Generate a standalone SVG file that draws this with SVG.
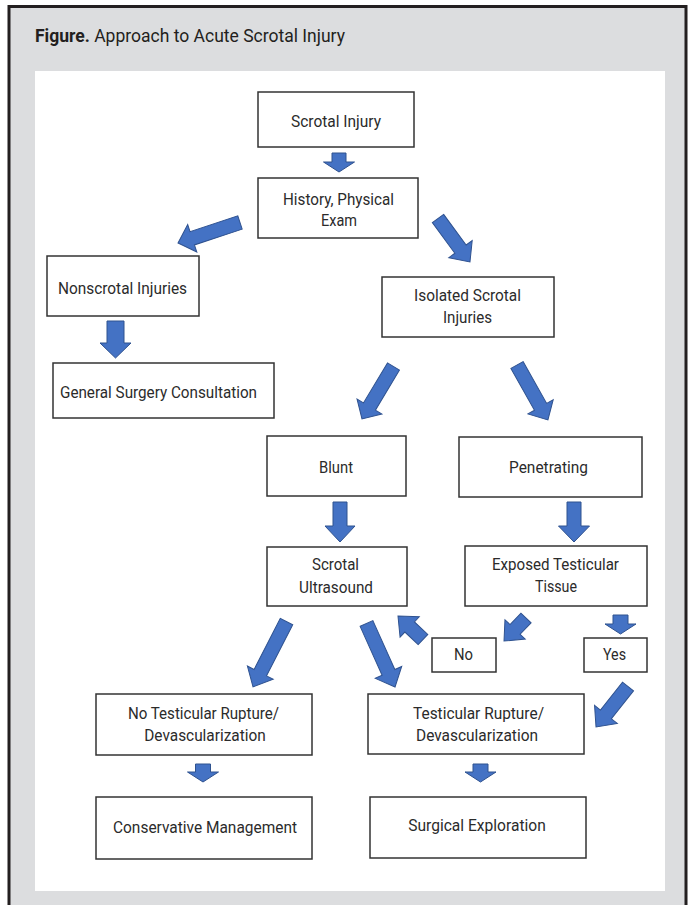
<svg xmlns="http://www.w3.org/2000/svg" width="689" height="905" viewBox="0 0 689 905">
<style>
.bx{fill:#fff;stroke:#333;stroke-width:1.5}
.t{font-family:Roboto,"Liberation Sans",sans-serif;font-size:16px;fill:#2b2b2b;text-anchor:middle}
.ar{fill:#4472C4;stroke:#2F528F;stroke-width:1;stroke-linejoin:miter}
</style>
<rect x="9" y="6.5" width="677" height="910" fill="#DCDDDF" stroke="#231F20" stroke-width="3"/>
<rect x="35" y="71" width="630" height="820" fill="#fff"/>
<text x="35" y="42" font-family="Roboto,'Liberation Sans',sans-serif" font-size="18" fill="#231F20" textLength="310" lengthAdjust="spacingAndGlyphs"><tspan font-weight="bold">Figure.</tspan> Approach to Acute Scrotal Injury</text>

<g id="connectors">
<polygon class="ar" transform="translate(339,153) rotate(90)" points="0,-7 9,-7 9,-15.5 19,0 9,15.5 9,7 0,7"/>
<polygon class="ar" transform="translate(240,222.5) rotate(161.7)" points="0,-7 50.3,-7 50.3,-14.5 65.3,0 50.3,14.5 50.3,7 0,7"/>
<polygon class="ar" transform="translate(438,218.5) rotate(53.7)" points="0,-7 38,-7 38,-14.5 54,0 38,14.5 38,7 0,7"/>
<polygon class="ar" transform="translate(115.5,321) rotate(90)" points="0,-8.5 22,-8.5 22,-15.5 37,0 22,15.5 22,8.5 0,8.5"/>
<polygon class="ar" transform="translate(393.5,366.5) rotate(121)" points="0,-7 46.7,-7 46.7,-14.5 61.2,0 46.7,14.5 46.7,7 0,7"/>
<polygon class="ar" transform="translate(517,365) rotate(60.6)" points="0,-7 48,-7 48,-14.5 63,0 48,14.5 48,7 0,7"/>
<polygon class="ar" transform="translate(340,502) rotate(90)" points="0,-7 24,-7 24,-15 40,0 24,15 24,7 0,7"/>
<polygon class="ar" transform="translate(574,502) rotate(90)" points="0,-7 24,-7 24,-15.5 40,0 24,15.5 24,7 0,7"/>
<polygon class="ar" transform="translate(526,618) rotate(133.7)" points="0,-7 15.8,-7 15.8,-14 31.8,0 15.8,14 15.8,7 0,7"/>
<polygon class="ar" transform="translate(620.5,615) rotate(90)" points="0,-7.5 9,-7.5 9,-15.5 19,0 9,15.5 9,7.5 0,7.5"/>
<polygon class="ar" transform="translate(423,639.5) rotate(223.2)" points="0,-7 18.3,-7 18.3,-14 34.3,0 18.3,14 18.3,7 0,7"/>
<polygon class="ar" transform="translate(628,686.5) rotate(128.3)" points="0,-7 35.6,-7 35.6,-14.5 51.6,0 35.6,14.5 35.6,7 0,7"/>
<polygon class="ar" transform="translate(286.5,621.5) rotate(117.1)" points="0,-7 57.5,-7 57.5,-14.5 73.5,0 57.5,14.5 57.5,7 0,7"/>
<polygon class="ar" transform="translate(366.5,623.5) rotate(65.8)" points="0,-7 53.6,-7 53.6,-14.5 69.6,0 53.6,14.5 53.6,7 0,7"/>
<polygon class="ar" transform="translate(203,764) rotate(90)" points="0,-7.5 8,-7.5 8,-15.5 18,0 8,15.5 8,7.5 0,7.5"/>
<polygon class="ar" transform="translate(480.5,764) rotate(90)" points="0,-7.5 8,-7.5 8,-15.5 18,0 8,15.5 8,7.5 0,7.5"/>
</g>

<g id="scrotal-injury"><rect class="bx" x="258" y="92" width="156" height="55"/><text class="t" x="336" y="127" textLength="90" lengthAdjust="spacingAndGlyphs">Scrotal Injury</text></g>
<g id="history"><rect class="bx" x="258" y="178" width="160" height="60"/><text class="t" x="338.5" y="205" textLength="111" lengthAdjust="spacingAndGlyphs">History, Physical</text><text class="t" x="339" y="226" textLength="36" lengthAdjust="spacingAndGlyphs">Exam</text></g>
<g id="nonscrotal"><rect class="bx" x="47" y="256" width="152" height="60"/><text class="t" x="122.5" y="294" textLength="129" lengthAdjust="spacingAndGlyphs">Nonscrotal Injuries</text></g>
<g id="general-surgery"><rect class="bx" x="53" y="363" width="221" height="55"/><text class="t" x="158.5" y="398" textLength="197" lengthAdjust="spacingAndGlyphs">General Surgery Consultation</text></g>
<g id="isolated"><rect class="bx" x="382" y="277" width="172" height="60"/><text class="t" x="467.5" y="301" textLength="107" lengthAdjust="spacingAndGlyphs">Isolated Scrotal</text><text class="t" x="467.5" y="323" textLength="49" lengthAdjust="spacingAndGlyphs">Injuries</text></g>
<g id="blunt"><rect class="bx" x="267" y="436" width="139" height="60"/><text class="t" x="336" y="473" textLength="34" lengthAdjust="spacingAndGlyphs">Blunt</text></g>
<g id="penetrating"><rect class="bx" x="459" y="437" width="183" height="60"/><text class="t" x="548.5" y="473" textLength="79" lengthAdjust="spacingAndGlyphs">Penetrating</text></g>
<g id="ultrasound"><rect class="bx" x="267" y="547" width="140" height="59"/><text class="t" x="335.5" y="570" textLength="47" lengthAdjust="spacingAndGlyphs">Scrotal</text><text class="t" x="336" y="593" textLength="74" lengthAdjust="spacingAndGlyphs">Ultrasound</text></g>
<g id="exposed"><rect class="bx" x="465" y="546" width="182" height="60"/><text class="t" x="555.5" y="570" textLength="127" lengthAdjust="spacingAndGlyphs">Exposed Testicular</text><text class="t" x="556" y="592" textLength="42" lengthAdjust="spacingAndGlyphs">Tissue</text></g>
<g id="no"><rect class="bx" x="432" y="638" width="64" height="34"/><text class="t" x="463.5" y="660" textLength="19" lengthAdjust="spacingAndGlyphs">No</text></g>
<g id="yes"><rect class="bx" x="584" y="638" width="63" height="34"/><text class="t" x="614.5" y="660" textLength="23" lengthAdjust="spacingAndGlyphs">Yes</text></g>
<g id="no-rupture"><rect class="bx" x="96" y="694" width="216" height="61"/><text class="t" x="203.5" y="719" textLength="151" lengthAdjust="spacingAndGlyphs">No Testicular Rupture/</text><text class="t" x="205" y="741" textLength="121.5" lengthAdjust="spacingAndGlyphs">Devascularization</text></g>
<g id="rupture"><rect class="bx" x="368" y="694" width="216" height="60"/><text class="t" x="478.5" y="719" textLength="131" lengthAdjust="spacingAndGlyphs">Testicular Rupture/</text><text class="t" x="477" y="741" textLength="122" lengthAdjust="spacingAndGlyphs">Devascularization</text></g>
<g id="conservative"><rect class="bx" x="96" y="797" width="216" height="62"/><text class="t" x="205" y="833" textLength="184" lengthAdjust="spacingAndGlyphs">Conservative Management</text></g>
<g id="surgical"><rect class="bx" x="370" y="797" width="216" height="61"/><text class="t" x="477" y="831" textLength="137.5" lengthAdjust="spacingAndGlyphs">Surgical Exploration</text></g>
</svg>
